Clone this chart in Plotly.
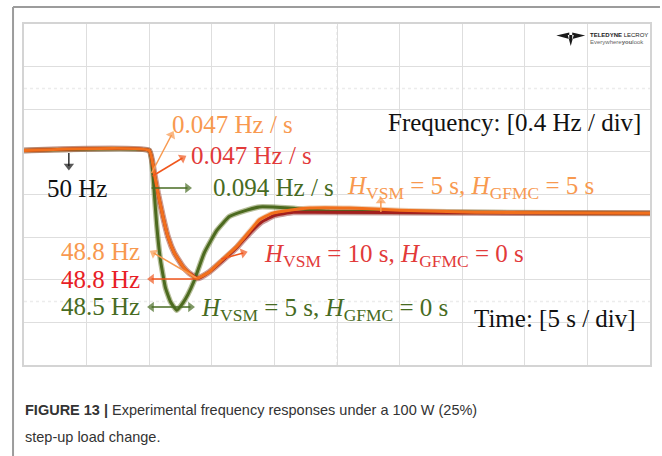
import plotly.graph_objects as go

# ---------------------------------------------------------------------------
# Scope settings: 5 s/div horizontally (10 div), 0.4 Hz/div vertically (8 div)
# ---------------------------------------------------------------------------
T_RANGE = [0.0, 50.0]
F_RANGE = [47.987, 51.187]
T_DIV = 5.0
F_DIV = 0.4

# Reference values quoted in the labels
F_NOMINAL = 50.0
F_NADIR_GFMC5 = 48.8   # H_VSM = 5 s, H_GFMC = 5 s
F_NADIR_VSM10 = 48.8   # H_VSM = 10 s, H_GFMC = 0 s
F_NADIR_VSM5 = 48.5    # H_VSM = 5 s, H_GFMC = 0 s

# H_VSM = 5 s, H_GFMC = 5 s
t_gfmc5 = [0.0, 10.0, 10.4, 10.7, 11.1, 11.5, 12.0, 12.7, 13.2, 13.8,
           14.8, 15.8, 17.0, 18.0, 18.8, 19.8, 21.2, 22.8, 26.0, 30.0, 36.0, 50.0]
f_gfmc5 = [F_NOMINAL, F_NOMINAL, 49.79, 49.60, 49.38, 49.19, 49.04, 48.91, 48.85, F_NADIR_GFMC5,
           48.86, 48.97, 49.10, 49.24, 49.35, 49.41, 49.44, 49.46, 49.46, 49.44, 49.42, 49.41]

# H_VSM = 10 s, H_GFMC = 0 s
t_vsm10 = [0.0, 10.0, 10.4, 10.7, 11.1, 11.5, 12.0, 12.7, 13.2, 13.9,
           14.8, 15.8, 17.0, 18.0, 19.0, 20.0, 21.5, 24.0, 50.0]
f_vsm10 = [F_NOMINAL, F_NOMINAL, 49.79, 49.60, 49.38, 49.19, 49.04, 48.91, 48.85, F_NADIR_VSM10,
           48.86, 48.96, 49.09, 49.22, 49.33, 49.39, 49.42, 49.42, 49.41]

# H_VSM = 5 s, H_GFMC = 0 s
t_vsm5 = [0.0, 10.0, 10.2, 10.3, 10.6, 10.9, 11.3, 11.7, 12.2, 12.7, 13.1,
          13.6, 14.4, 15.4, 16.4, 17.8, 18.8, 21.2, 24.4, 50.0]
f_vsm5 = [F_NOMINAL, F_NOMINAL, 49.91, 49.77, 49.30, 48.97, 48.71, 48.58, F_NADIR_VSM5, 48.57, 48.65,
          48.78, 49.04, 49.25, 49.38, 49.44, 49.47, 49.46, 49.43, 49.41]

# Colours
C_ORANGE_TXT = "#f8994f"
C_RED_TXT = "#e23a3a"
C_RED_ARROW = "#f0561c"
C_GREEN = "#476b22"
C_BLACK = "#111111"

W, H = 662, 456
ML, MR, MT, MB = 24, 10, 24, 91
PW, PH = W - ML - MR, H - MT - MB


def xt(px):
    """screen x -> time (s)"""
    return T_RANGE[0] + (px - ML) / PW * (T_RANGE[1] - T_RANGE[0])


def yf(py):
    """screen y -> frequency (Hz)"""
    return F_RANGE[1] - (py - MT) / PH * (F_RANGE[1] - F_RANGE[0])


def xp(px):
    return (px - ML) / PW


def yp(py):
    return (MT + PH - py) / PH


fig = go.Figure()

SMOOTH = 0.35


def trace(t, f, color, width, opacity=1.0):
    fig.add_trace(go.Scatter(x=t, y=f, mode="lines",
                             line=dict(color=color, width=width, shape="spline", smoothing=SMOOTH),
                             opacity=opacity, hoverinfo="skip", showlegend=False))


# measured (noisy) traces drawn as soft bands
trace(t_vsm5, f_vsm5, "#6f7f36", 5.5, 0.5)
trace(t_vsm10, f_vsm10, "#8e2626", 6, 0.45)
trace(t_gfmc5, f_gfmc5, "#d9a06e", 5, 0.5)
# filtered traces
trace(t_vsm5, f_vsm5, "#4c6a1f", 3)
trace(t_vsm10, f_vsm10, "#a3201e", 3)
trace(t_gfmc5, f_gfmc5, "#f2701c", 3)


def arrow(p0, p1, color, width=1.5, head=9):
    """pointer line from p0 to p1 (screen px) with a head at p1"""
    fig.add_trace(go.Scatter(
        x=[xt(p0[0]), xt(p1[0])], y=[yf(p0[1]), yf(p1[1])], mode="lines+markers",
        line=dict(color=color, width=width),
        marker=dict(symbol=["circle", "triangle-up"], size=[0, head], color=color, angleref="previous",
                    line=dict(width=0)),
        hoverinfo="skip", showlegend=False, cliponaxis=False))


arrow((152, 173), (172, 135), C_ORANGE_TXT)
arrow((153, 176), (183, 158), C_RED_ARROW)
arrow((152, 188), (188, 188), C_GREEN)
arrow((69, 153), (69, 166), C_BLACK, width=1.3)
arrow((197, 278), (154, 253), C_ORANGE_TXT)
arrow((197, 279), (152, 279), C_RED_ARROW)
arrow((175, 307), (152, 307), C_GREEN)
arrow((175, 307), (191, 307), C_GREEN)
arrow((222, 259), (244, 253), C_RED_ARROW)
arrow((382, 212), (382, 201), C_ORANGE_TXT)

SERIF = "Liberation Serif"
FS = 25

ann = []


def label(px, py, text, color, xanchor="left", size=FS, family=SERIF):
    ann.append(dict(x=xt(px), y=yf(py), xref="x", yref="y", text=text, showarrow=False,
                    xanchor=xanchor, yanchor="middle", font=dict(family=family, size=size, color=color)))


HV = "<i>H</i><sub>VSM</sub>"
HG = "<i>H</i><sub>GFMC</sub>"

label(170, 124, "0.047 Hz / s", C_ORANGE_TXT)
label(190, 155, "0.047 Hz / s", C_RED_TXT)
label(212, 187, "0.094 Hz / s", C_GREEN)
label(346, 187, f"{HV} = 5 s, {HG} = 5 s", C_ORANGE_TXT)
label(387, 122, "Frequency: [0.4 Hz / div]", C_BLACK)
label(45, 188, "50 Hz", C_BLACK)
label(142, 251, f"{F_NADIR_GFMC5:.1f} Hz", C_ORANGE_TXT, xanchor="right")
label(142, 279, f"{F_NADIR_VSM10:.1f} Hz", "#e81e26", xanchor="right")
label(142, 306, f"{F_NADIR_VSM5:.1f} Hz", C_GREEN, xanchor="right")
label(263, 255, f"{HV} = 10 s, {HG} = 0 s", C_RED_TXT)
label(200, 309, f"{HV} = 5 s, {HG} = 0 s", C_GREEN)
label(473, 318, "Time: [5 s / div]", C_BLACK)

# vendor mark
ann.append(dict(x=xp(590), y=yp(35), xref="paper", yref="paper", showarrow=False, xanchor="left", yanchor="middle",
                text="<b>TELEDYNE</b> LECROY", font=dict(family="Liberation Sans", size=6, color="#222222")))
ann.append(dict(x=xp(590), y=yp(42), xref="paper", yref="paper", showarrow=False, xanchor="left", yanchor="middle",
                text="Everywhere<b>you</b>look", font=dict(family="Liberation Sans", size=6, color="#666666")))

# caption
CAP = dict(family="Liberation Sans", size=14.5, color="#333333")
ann.append(dict(x=xp(23), y=yp(410), xref="paper", yref="paper", showarrow=False, xanchor="left", yanchor="middle",
                text="<b>FIGURE 13 |</b> Experimental frequency responses under a 100 W (25%)", font=CAP))
ann.append(dict(x=xp(23), y=yp(437), xref="paper", yref="paper", showarrow=False, xanchor="left", yanchor="middle",
                text="step-up load change.", font=CAP))

shapes = []
# figure frame
shapes.append(dict(type="line", xref="paper", yref="paper", x0=xp(13), x1=xp(662), y0=yp(7), y1=yp(7),
                   line=dict(color="#9c9c9c", width=2)))
shapes.append(dict(type="line", xref="paper", yref="paper", x0=xp(13), x1=xp(13), y0=yp(7), y1=yp(456),
                   line=dict(color="#9c9c9c", width=2)))
# graticule tick rows
for py in (88.5, 301.5):
    shapes.append(dict(type="line", xref="paper", yref="paper", x0=0, x1=1, y0=yp(py), y1=yp(py),
                       line=dict(color="#ececec", width=1.5, dash="dot"), layer="below"))
shapes.append(dict(type="line", xref="paper", yref="paper", x0=xp(338), x1=xp(338), y0=0, y1=1,
                   line=dict(color="#ececec", width=1.5, dash="dot"), layer="below"))
# logo glyph
path = (f"M{xp(558)},{yp(35.5)} L{xp(571)},{yp(32.5)} L{xp(571)},{yp(39)} Z "
        f"M{xp(587)},{yp(35.5)} L{xp(574)},{yp(32.5)} L{xp(574)},{yp(39)} Z "
        f"M{xp(569.5)},{yp(35)} L{xp(575.5)},{yp(35)} L{xp(572.5)},{yp(46)} Z")
shapes.append(dict(type="path", xref="paper", yref="paper", path=path, fillcolor="#1a1a1a",
                   line=dict(width=0)))

fig.update_layout(
    width=W, height=H, margin=dict(l=ML, r=MR, t=MT, b=MB),
    paper_bgcolor="white", plot_bgcolor="white",
    annotations=ann, shapes=shapes, showlegend=False,
    xaxis=dict(range=T_RANGE, tick0=0, dtick=T_DIV, showgrid=True, gridcolor="#dedede", gridwidth=1.2,
               showticklabels=False, ticks="", zeroline=False, showline=True, linecolor="#d4d4d4",
               linewidth=1.5, mirror=True, fixedrange=True),
    yaxis=dict(range=F_RANGE, tick0=F_RANGE[0], dtick=F_DIV, showgrid=True, gridcolor="#dedede", gridwidth=1.2,
               showticklabels=False, ticks="", zeroline=False, showline=True, linecolor="#d4d4d4",
               linewidth=1.5, mirror=True, fixedrange=True),
)

fig.write_html("out.html", config={"displayModeBar": False})
